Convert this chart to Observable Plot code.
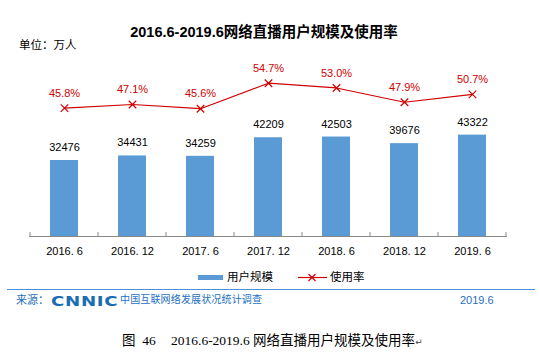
<!DOCTYPE html>
<html><head><meta charset="utf-8">
<script src="https://cdn.jsdelivr.net/npm/d3@7"></script>
<script src="https://cdn.jsdelivr.net/npm/@observablehq/plot@0.6"></script>
<style>
body{margin:0;background:#fff;}
#wrap{position:relative;width:540px;height:354px;overflow:hidden;font-family:"Liberation Sans","Noto Sans CJK SC",sans-serif;color:#000;}
.abs{position:absolute;white-space:pre;line-height:1;}
#chart svg{position:absolute;left:0;top:0;overflow:visible;}
</style></head><body>
<div id="wrap">
  <div class="abs" id="title" style="left:0;width:528px;text-align:center;top:25px;font-size:14.5px;font-weight:bold;"></div>
  <div class="abs" id="unit" style="left:19px;top:40px;font-size:11.5px;"></div>
  <div id="chart" class="abs" style="left:0;top:0;width:540px;height:266px;"></div>
  <div class="abs" style="left:198px;top:275px;width:25px;height:5px;background:#5b9bd5"></div>
  <div class="abs" id="leg1" style="left:227px;top:272px;font-size:11.5px;"></div>
  <svg class="abs" style="left:296px;top:271px" width="32" height="13"><line x1="2" x2="31" y1="6.5" y2="6.5" stroke="#d00000" stroke-width="1.2"/><path d="M12.5,3l7,7M19.5,3l-7,7" stroke="#d00000" stroke-width="1.2"/></svg>
  <div class="abs" id="leg2" style="left:330px;top:272px;font-size:11.5px;"></div>
  <div class="abs" style="left:7px;top:289px;width:528px;height:1px;background:#4a90d9"></div>
  <div class="abs" id="src" style="left:16px;top:295px;font-size:11px;color:#1e6fc0;"></div>
  <div class="abs" id="logo" style="left:51px;top:294px;font-size:14px;font-weight:bold;font-family:'DejaVu Sans',sans-serif;color:#1a6cb5;transform-origin:0 0;transform:scaleX(1.3);letter-spacing:0.5px;"></div>
  <div class="abs" id="survey" style="left:120px;top:295px;font-size:10px;letter-spacing:0.15px;color:#1e6fc0;"></div>
  <div class="abs" id="date" style="left:460px;top:295px;font-size:11px;color:#1e6fc0;"></div>
  <div class="abs" id="cap1" style="left:122px;top:334px;font-size:13.5px;font-family:'Liberation Serif','Noto Sans CJK SC',serif;"></div>
  <div class="abs" id="cap2" style="left:171px;top:334px;font-size:13.5px;font-family:'Liberation Serif','Noto Sans CJK SC',serif;"><span id="capText"></span><span id="capMark" style="font-size:9px;color:#444;font-family:'DejaVu Sans',sans-serif;"></span></div>
</div>
<script>
const titleText = "2016.6-2019.6网络直播用户规模及使用率";
const unitText = "单位：万人";
const categories = ["2016. 6","2016. 12","2017. 6","2017. 12","2018. 6","2018. 12","2019. 6"];
const users = [32476,34431,34259,42209,42503,39676,43322];
const rates = [45.8,47.1,45.6,54.7,53.0,47.9,50.7];
const seriesNames = ["用户规模","使用率"];
const sourceLabel = "来源：";
const logoText = "CNNIC";
const surveyText = "中国互联网络发展状况统计调查";
const dateText = "2019.6";
const captionNum = "图  46";
const captionText = "2016.6-2019.6 网络直播用户规模及使用率";
const captionMark = "↵";

document.getElementById("title").textContent = titleText;
document.getElementById("unit").textContent = unitText;
document.getElementById("leg1").textContent = seriesNames[0];
document.getElementById("leg2").textContent = seriesNames[1];
document.getElementById("src").textContent = sourceLabel;
document.getElementById("logo").textContent = logoText;
document.getElementById("survey").textContent = surveyText;
document.getElementById("date").textContent = dateText;
document.getElementById("cap1").textContent = captionNum;
document.getElementById("capText").textContent = captionText;
document.getElementById("capMark").textContent = captionMark;

const rows = categories.map((c, i) => ({period: c, users: users[i], rate: rates[i]}));

const common = {
  width: 540, height: 266,
  marginLeft: 29, marginRight: 33, marginTop: 2, marginBottom: 30,
  x: {type: "band", domain: categories, paddingInner: 0.59, paddingOuter: 0.295, axis: null},
  style: {background: "transparent", fontFamily: "Liberation Sans, Noto Sans CJK SC, sans-serif", fontSize: "11px", overflow: "visible"}
};

function tickMarks(index, scales, values, dimensions) {
  const x = scales.x;
  const g = d3.create("svg:g");
  const y0 = dimensions.height - dimensions.marginBottom;
  const step = x.step();
  const pad = (step - x.bandwidth()) / 2;
  const bounds = categories.map(c => x(c) - pad);
  bounds.push(x(categories[categories.length - 1]) + x.bandwidth() + pad);
  for (const b of bounds) {
    g.append("line").attr("x1", b).attr("x2", b).attr("y1", y0 - 4).attr("y2", y0)
      .attr("stroke", "#898989").attr("stroke-width", 1);
  }
  return g.node();
}

const barPlot = Plot.plot({
  ...common,
  y: {domain: [0, 100000], axis: null},
  marks: [
    Plot.barY(rows, {x: "period", y: "users", fill: "#5b9bd5"}),
    Plot.text(rows, {x: "period", y: "users", text: d => String(d.users), dy: -13, fill: "#000"}),
    Plot.ruleY([0], {stroke: "#898989"}),
    tickMarks,
    Plot.text(categories, {x: d => d, frameAnchor: "bottom", dy: 18, fill: "#000"})
  ]
});

const linePlot = Plot.plot({
  ...common,
  y: {domain: [0, 83.5], axis: null},
  marks: [
    Plot.line(rows, {x: "period", y: "rate", stroke: "#d00000", strokeWidth: 1.2}),
    Plot.dot(rows, {x: "period", y: "rate", symbol: "times", r: 3.5, stroke: "#d00000", strokeWidth: 1.2}),
    Plot.text(rows, {x: "period", y: "rate", text: d => d.rate.toFixed(1) + "%", dy: -15, fill: "#d00000"})
  ]
});

const chart = document.getElementById("chart");
chart.appendChild(barPlot);
chart.appendChild(linePlot);
</script>
</body></html>
